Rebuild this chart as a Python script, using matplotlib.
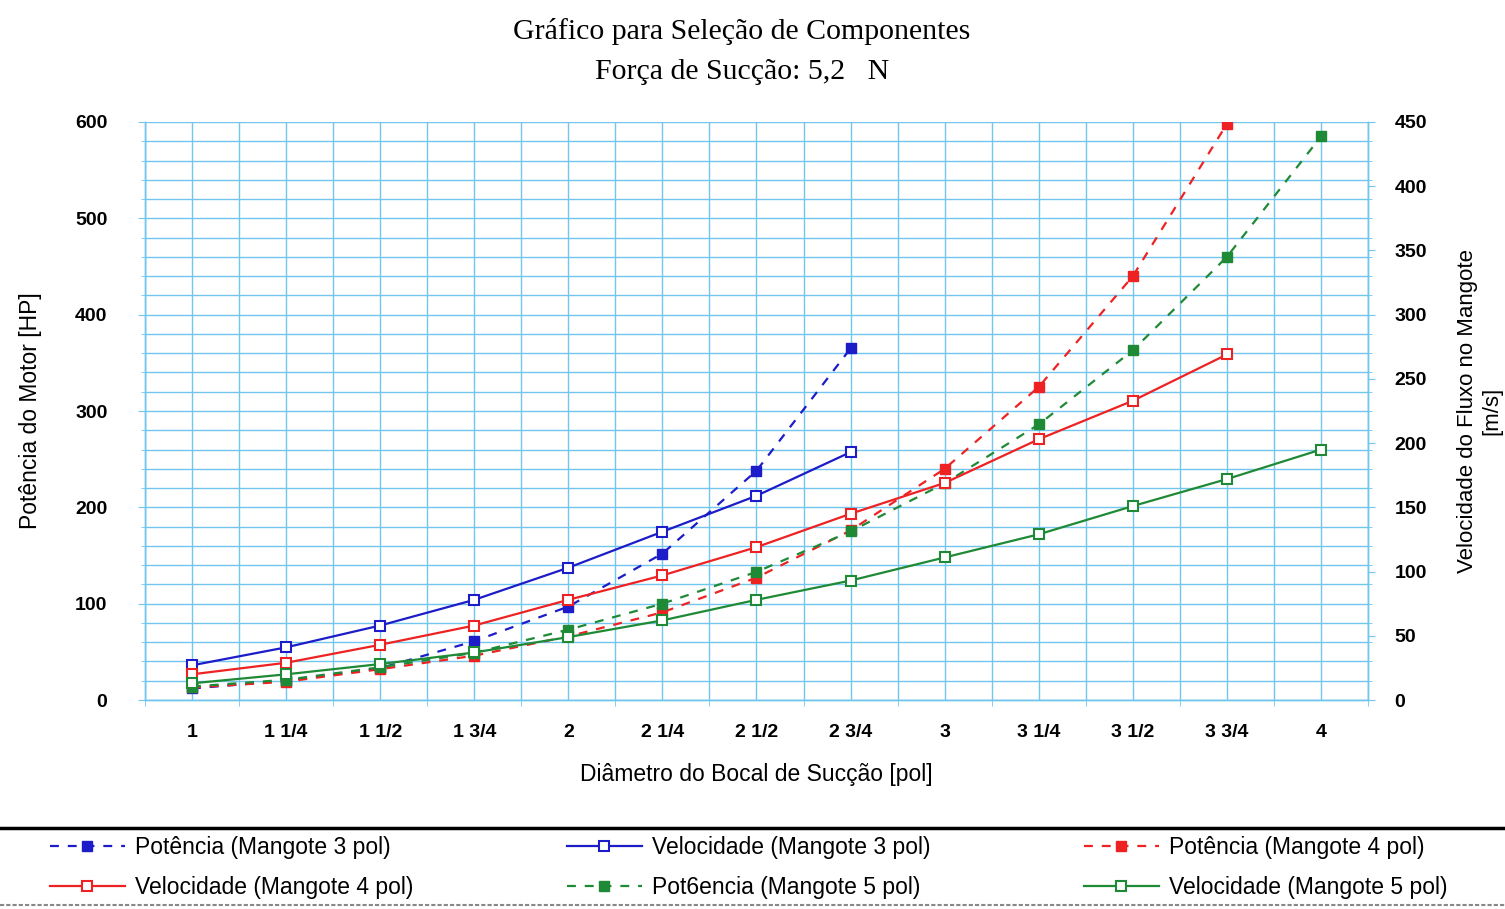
import matplotlib
matplotlib.use("Agg")
import matplotlib.pyplot as plt
from matplotlib.lines import Line2D
import numpy as np

# Nozzle diameters (category axis)
diametros = ["1", "1 1/4", "1 1/2", "1 3/4", "2", "2 1/4", "2 1/2",
             "2 3/4", "3", "3 1/4", "3 1/2", "3 3/4", "4"]

# Motor power [HP] for each hose size
potencia_3 = [12, 20, 33, 61, 97, 152, 238, 365]
potencia_4 = [13, 19, 32, 46, 66, 91, 127, 176, 240, 325, 440, 598]
potencia_5 = [14, 21, 34, 49, 73, 100, 133, 175, 225, 286, 363, 460, 585]

# Flow velocity in the hose [m/s]
velocidade_3 = [27, 41, 58, 78, 103, 131, 159, 193]
velocidade_4 = [20, 29, 43, 58, 78, 97, 119, 145, 169, 203, 233, 269]
velocidade_5 = [13, 20, 28, 37, 49, 62, 78, 93, 111, 129, 151, 172, 195]

AZUL = "#1c1cc8"
VERMELHO = "#ee2222"
VERDE = "#1f8a35"
GRADE = "#72c6ee"
FONTE = "Liberation Sans"

fig = plt.figure(figsize=(15.05, 9.09), dpi=100)
ax = fig.add_axes([0.0963, 0.2299, 0.8127, 0.6359])
ax2 = ax.twinx()

pos = lambda n: np.arange(1, n + 1)

dash = (0, (4, 4))
kw_pot = dict(lw=1.6, ls=dash, marker="s", ms=6.5)
kw_vel = dict(lw=1.6, ls="-", marker="s", ms=6.5, markerfacecolor="white",
              markeredgewidth=1.5)

p3, = ax.plot(pos(len(potencia_3)), potencia_3, color=AZUL, **kw_pot,
              label="Potência (Mangote 3 pol)")
p4, = ax.plot(pos(len(potencia_4)), potencia_4, color=VERMELHO, **kw_pot,
              label="Potência (Mangote 4 pol)")
p5, = ax.plot(pos(len(potencia_5)), potencia_5, color=VERDE, **kw_pot,
              label="Pot6encia (Mangote 5 pol)")
v3, = ax2.plot(pos(len(velocidade_3)), velocidade_3, color=AZUL, **kw_vel,
               label="Velocidade (Mangote 3 pol)")
v4, = ax2.plot(pos(len(velocidade_4)), velocidade_4, color=VERMELHO, **kw_vel,
               label="Velocidade (Mangote 4 pol)")
v5, = ax2.plot(pos(len(velocidade_5)), velocidade_5, color=VERDE, **kw_vel,
               label="Velocidade (Mangote 5 pol)")

# Axes limits and ticks
ax.set_xlim(0.5, len(diametros) + 0.5)
ax.set_ylim(0, 600)
ax2.set_ylim(0, 450)
ax.set_xticks(pos(len(diametros)))
ax.set_xticklabels(diametros)
ax.set_xticks(np.arange(0.5, len(diametros) + 1, 1.0), minor=True)
ax.set_yticks(range(0, 601, 100))
ax.set_yticks(range(0, 601, 20), minor=True)
ax2.set_yticks(range(0, 451, 50))
ax2.set_yticks(np.arange(0, 451, 15), minor=True)

ax.grid(True, which="both", color=GRADE, lw=1.0)
ax.set_axisbelow(True)
ax2.set_axisbelow(True)

for a in (ax, ax2):
    for s in a.spines.values():
        s.set_color(GRADE)
        s.set_linewidth(1.0)
    a.spines["top"].set_visible(False)

ax.tick_params(axis="x", which="major", length=0, pad=17)
ax.tick_params(axis="x", which="minor", length=4, color=GRADE)
ax.tick_params(axis="y", which="major", length=5, color=GRADE, pad=22)
ax.tick_params(axis="y", which="minor", length=3, color=GRADE)
ax2.tick_params(axis="y", which="major", length=5, color=GRADE, pad=14)
ax2.tick_params(axis="y", which="minor", length=3, color=GRADE)

for lbl in ax.get_xticklabels() + ax.get_yticklabels() + ax2.get_yticklabels():
    lbl.set_fontfamily(FONTE)
    lbl.set_fontweight("bold")
    lbl.set_fontsize(14)

ax.set_xlabel("Diâmetro do Bocal de Sucção [pol]", fontsize=16.5,
              family=FONTE, labelpad=16)
ax.set_ylabel("Potência do Motor [HP]", fontsize=16.5,
              family=FONTE, labelpad=24)
ax2.set_ylabel("Velocidade do Fluxo no Mangote\n[m/s]", fontsize=16,
               family=FONTE, labelpad=22, linespacing=1.15)

fig.text(0.493, 0.965, "Gráfico para Seleção de Componentes",
         ha="center", va="center", fontsize=21.5, family="Liberation Serif")
fig.text(0.493, 0.921, "Força de Sucção: 5,2   N",
         ha="center", va="center", fontsize=21.5, family="Liberation Serif")

# Legend band below the chart
fig.add_artist(Line2D([0, 1], [0.089, 0.089], transform=fig.transFigure,
                      color="black", lw=2.5))
fig.add_artist(Line2D([0, 1], [0.004, 0.004], transform=fig.transFigure,
                      color="#888888", lw=1.5, ls=(0, (2, 1))))

handles = [p3, v4, v3, p5, p4, v5]
leg = fig.legend(handles=handles, labels=[h.get_label() for h in handles],
                 ncol=3, loc="center left", bbox_to_anchor=(0.0194, 0.046),
                 frameon=False, handlelength=3.27,
                 columnspacing=6.7, labelspacing=0.75, handletextpad=0.44,
                 prop={"family": FONTE, "size": 16.5})

fig.savefig("out.png", dpi=100)
